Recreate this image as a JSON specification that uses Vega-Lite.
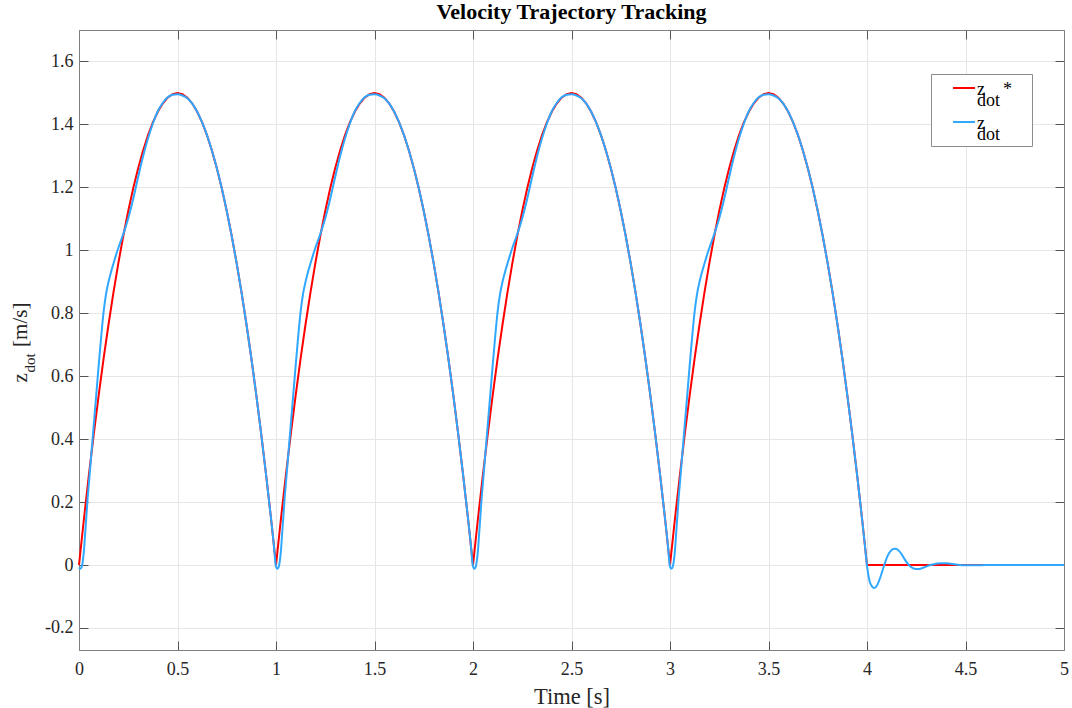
{
  "$schema": "https://vega.github.io/schema/vega-lite/v6.json",
  "width": 985,
  "height": 620,
  "autosize": {"type": "none"},
  "padding": {"left": 79, "top": 30, "right": 8, "bottom": 58},
  "background": "white",
  "title": {
    "text": "Velocity Trajectory Tracking",
    "font": "Liberation Serif",
    "fontSize": 22,
    "fontWeight": "bold",
    "color": "#000000",
    "anchor": "middle",
    "frame": "group",
    "baseline": "alphabetic",
    "offset": 11,
    "dy": 22
  },
  "config": {
    "view": {"stroke": null},
    "font": "Liberation Serif",
    "axis": {"labelFont": "Liberation Serif", "titleFont": "Liberation Serif"},
    "legend": {"labelFont": "Liberation Serif"}
  },
  "datasets": {
    "reference": [
      {"t":0,"v":0},{"t":0.025,"v":0.14625},{"t":0.05,"v":0.285},{"t":0.075,"v":0.41625},{"t":0.1,"v":0.54},{"t":0.125,"v":0.65625},{"t":0.15,"v":0.765},{"t":0.175,"v":0.86625},{"t":0.2,"v":0.96},{"t":0.225,"v":1.04625},{"t":0.25,"v":1.125},{"t":0.275,"v":1.19625},{"t":0.3,"v":1.26},{"t":0.325,"v":1.31625},{"t":0.35,"v":1.365},{"t":0.375,"v":1.40625},{"t":0.4,"v":1.44},{"t":0.425,"v":1.46625},{"t":0.45,"v":1.485},{"t":0.475,"v":1.49625},{"t":0.5,"v":1.5},{"t":0.525,"v":1.49625},{"t":0.55,"v":1.485},{"t":0.575,"v":1.46625},{"t":0.6,"v":1.44},{"t":0.625,"v":1.40625},{"t":0.65,"v":1.365},{"t":0.675,"v":1.31625},{"t":0.7,"v":1.26},{"t":0.725,"v":1.19625},{"t":0.75,"v":1.125},{"t":0.775,"v":1.04625},{"t":0.8,"v":0.96},{"t":0.825,"v":0.86625},{"t":0.85,"v":0.765},{"t":0.875,"v":0.65625},{"t":0.9,"v":0.54},{"t":0.925,"v":0.41625},{"t":0.95,"v":0.285},{"t":0.975,"v":0.14625},
      {"t":1,"v":0},{"t":1.025,"v":0.14625},{"t":1.05,"v":0.285},{"t":1.075,"v":0.41625},{"t":1.1,"v":0.54},{"t":1.125,"v":0.65625},{"t":1.15,"v":0.765},{"t":1.175,"v":0.86625},{"t":1.2,"v":0.96},{"t":1.225,"v":1.04625},{"t":1.25,"v":1.125},{"t":1.275,"v":1.19625},{"t":1.3,"v":1.26},{"t":1.325,"v":1.31625},{"t":1.35,"v":1.365},{"t":1.375,"v":1.40625},{"t":1.4,"v":1.44},{"t":1.425,"v":1.46625},{"t":1.45,"v":1.485},{"t":1.475,"v":1.49625},{"t":1.5,"v":1.5},{"t":1.525,"v":1.49625},{"t":1.55,"v":1.485},{"t":1.575,"v":1.46625},{"t":1.6,"v":1.44},{"t":1.625,"v":1.40625},{"t":1.65,"v":1.365},{"t":1.675,"v":1.31625},{"t":1.7,"v":1.26},{"t":1.725,"v":1.19625},{"t":1.75,"v":1.125},{"t":1.775,"v":1.04625},{"t":1.8,"v":0.96},{"t":1.825,"v":0.86625},{"t":1.85,"v":0.765},{"t":1.875,"v":0.65625},{"t":1.9,"v":0.54},{"t":1.925,"v":0.41625},{"t":1.95,"v":0.285},{"t":1.975,"v":0.14625},
      {"t":2,"v":0},{"t":2.025,"v":0.14625},{"t":2.05,"v":0.285},{"t":2.075,"v":0.41625},{"t":2.1,"v":0.54},{"t":2.125,"v":0.65625},{"t":2.15,"v":0.765},{"t":2.175,"v":0.86625},{"t":2.2,"v":0.96},{"t":2.225,"v":1.04625},{"t":2.25,"v":1.125},{"t":2.275,"v":1.19625},{"t":2.3,"v":1.26},{"t":2.325,"v":1.31625},{"t":2.35,"v":1.365},{"t":2.375,"v":1.40625},{"t":2.4,"v":1.44},{"t":2.425,"v":1.46625},{"t":2.45,"v":1.485},{"t":2.475,"v":1.49625},{"t":2.5,"v":1.5},{"t":2.525,"v":1.49625},{"t":2.55,"v":1.485},{"t":2.575,"v":1.46625},{"t":2.6,"v":1.44},{"t":2.625,"v":1.40625},{"t":2.65,"v":1.365},{"t":2.675,"v":1.31625},{"t":2.7,"v":1.26},{"t":2.725,"v":1.19625},{"t":2.75,"v":1.125},{"t":2.775,"v":1.04625},{"t":2.8,"v":0.96},{"t":2.825,"v":0.86625},{"t":2.85,"v":0.765},{"t":2.875,"v":0.65625},{"t":2.9,"v":0.54},{"t":2.925,"v":0.41625},{"t":2.95,"v":0.285},{"t":2.975,"v":0.14625},
      {"t":3,"v":0},{"t":3.025,"v":0.14625},{"t":3.05,"v":0.285},{"t":3.075,"v":0.41625},{"t":3.1,"v":0.54},{"t":3.125,"v":0.65625},{"t":3.15,"v":0.765},{"t":3.175,"v":0.86625},{"t":3.2,"v":0.96},{"t":3.225,"v":1.04625},{"t":3.25,"v":1.125},{"t":3.275,"v":1.19625},{"t":3.3,"v":1.26},{"t":3.325,"v":1.31625},{"t":3.35,"v":1.365},{"t":3.375,"v":1.40625},{"t":3.4,"v":1.44},{"t":3.425,"v":1.46625},{"t":3.45,"v":1.485},{"t":3.475,"v":1.49625},{"t":3.5,"v":1.5},{"t":3.525,"v":1.49625},{"t":3.55,"v":1.485},{"t":3.575,"v":1.46625},{"t":3.6,"v":1.44},{"t":3.625,"v":1.40625},{"t":3.65,"v":1.365},{"t":3.675,"v":1.31625},{"t":3.7,"v":1.26},{"t":3.725,"v":1.19625},{"t":3.75,"v":1.125},{"t":3.775,"v":1.04625},{"t":3.8,"v":0.96},{"t":3.825,"v":0.86625},{"t":3.85,"v":0.765},{"t":3.875,"v":0.65625},{"t":3.9,"v":0.54},{"t":3.925,"v":0.41625},{"t":3.95,"v":0.285},{"t":3.975,"v":0.14625},
      {"t":4,"v":0},{"t":5,"v":0}
    ],
    "measured": [
      {"t":0,"v":-0.008},{"t":0.00625,"v":-0.012},{"t":0.0125,"v":-0.008},{"t":0.01875,"v":0.01},{"t":0.025,"v":0.045},{"t":0.03125,"v":0.1},{"t":0.0375,"v":0.155},{"t":0.04375,"v":0.212},{"t":0.05,"v":0.258},{"t":0.0625,"v":0.352},{"t":0.075,"v":0.446},{"t":0.0875,"v":0.54},{"t":0.1,"v":0.635},{"t":0.1125,"v":0.725},{"t":0.125,"v":0.805},{"t":0.1375,"v":0.862},{"t":0.15,"v":0.9},{"t":0.1625,"v":0.931},{"t":0.175,"v":0.958},{"t":0.1875,"v":0.984},{"t":0.2,"v":1.008},{"t":0.2125,"v":1.03},{"t":0.225,"v":1.052},{"t":0.2375,"v":1.076},{"t":0.25,"v":1.102},{"t":0.2625,"v":1.131},{"t":0.275,"v":1.163},{"t":0.3,"v":1.232},{"t":0.325,"v":1.298},{"t":0.35,"v":1.355},{"t":0.375,"v":1.403},{"t":0.4,"v":1.442},{"t":0.425,"v":1.468},{"t":0.45,"v":1.486},{"t":0.475,"v":1.494},{"t":0.5,"v":1.496},{"t":0.525,"v":1.492},{"t":0.55,"v":1.483},{"t":0.575,"v":1.466},{"t":0.6,"v":1.44},{"t":0.625,"v":1.40625},{"t":0.65,"v":1.365},{"t":0.675,"v":1.31625},{"t":0.7,"v":1.26},{"t":0.725,"v":1.19625},{"t":0.75,"v":1.125},{"t":0.775,"v":1.04625},{"t":0.8,"v":0.96},{"t":0.825,"v":0.86625},{"t":0.85,"v":0.765},{"t":0.875,"v":0.65625},{"t":0.9,"v":0.54},{"t":0.925,"v":0.41625},{"t":0.95,"v":0.285},{"t":0.975,"v":0.14625},{"t":0.9875,"v":0.074},
      {"t":1,"v":-0.005},{"t":1.00625,"v":-0.012},{"t":1.0125,"v":-0.008},{"t":1.01875,"v":0.01},{"t":1.025,"v":0.045},{"t":1.03125,"v":0.1},{"t":1.0375,"v":0.155},{"t":1.04375,"v":0.212},{"t":1.05,"v":0.258},{"t":1.0625,"v":0.352},{"t":1.075,"v":0.446},{"t":1.0875,"v":0.54},{"t":1.1,"v":0.635},{"t":1.1125,"v":0.725},{"t":1.125,"v":0.805},{"t":1.1375,"v":0.862},{"t":1.15,"v":0.9},{"t":1.1625,"v":0.931},{"t":1.175,"v":0.958},{"t":1.1875,"v":0.984},{"t":1.2,"v":1.008},{"t":1.2125,"v":1.03},{"t":1.225,"v":1.052},{"t":1.2375,"v":1.076},{"t":1.25,"v":1.102},{"t":1.2625,"v":1.131},{"t":1.275,"v":1.163},{"t":1.3,"v":1.232},{"t":1.325,"v":1.298},{"t":1.35,"v":1.355},{"t":1.375,"v":1.403},{"t":1.4,"v":1.442},{"t":1.425,"v":1.468},{"t":1.45,"v":1.486},{"t":1.475,"v":1.494},{"t":1.5,"v":1.496},{"t":1.525,"v":1.492},{"t":1.55,"v":1.483},{"t":1.575,"v":1.466},{"t":1.6,"v":1.44},{"t":1.625,"v":1.40625},{"t":1.65,"v":1.365},{"t":1.675,"v":1.31625},{"t":1.7,"v":1.26},{"t":1.725,"v":1.19625},{"t":1.75,"v":1.125},{"t":1.775,"v":1.04625},{"t":1.8,"v":0.96},{"t":1.825,"v":0.86625},{"t":1.85,"v":0.765},{"t":1.875,"v":0.65625},{"t":1.9,"v":0.54},{"t":1.925,"v":0.41625},{"t":1.95,"v":0.285},{"t":1.975,"v":0.14625},{"t":1.9875,"v":0.074},
      {"t":2,"v":-0.005},{"t":2.00625,"v":-0.012},{"t":2.0125,"v":-0.008},{"t":2.01875,"v":0.01},{"t":2.025,"v":0.045},{"t":2.03125,"v":0.1},{"t":2.0375,"v":0.155},{"t":2.04375,"v":0.212},{"t":2.05,"v":0.258},{"t":2.0625,"v":0.352},{"t":2.075,"v":0.446},{"t":2.0875,"v":0.54},{"t":2.1,"v":0.635},{"t":2.1125,"v":0.725},{"t":2.125,"v":0.805},{"t":2.1375,"v":0.862},{"t":2.15,"v":0.9},{"t":2.1625,"v":0.931},{"t":2.175,"v":0.958},{"t":2.1875,"v":0.984},{"t":2.2,"v":1.008},{"t":2.2125,"v":1.03},{"t":2.225,"v":1.052},{"t":2.2375,"v":1.076},{"t":2.25,"v":1.102},{"t":2.2625,"v":1.131},{"t":2.275,"v":1.163},{"t":2.3,"v":1.232},{"t":2.325,"v":1.298},{"t":2.35,"v":1.355},{"t":2.375,"v":1.403},{"t":2.4,"v":1.442},{"t":2.425,"v":1.468},{"t":2.45,"v":1.486},{"t":2.475,"v":1.494},{"t":2.5,"v":1.496},{"t":2.525,"v":1.492},{"t":2.55,"v":1.483},{"t":2.575,"v":1.466},{"t":2.6,"v":1.44},{"t":2.625,"v":1.40625},{"t":2.65,"v":1.365},{"t":2.675,"v":1.31625},{"t":2.7,"v":1.26},{"t":2.725,"v":1.19625},{"t":2.75,"v":1.125},{"t":2.775,"v":1.04625},{"t":2.8,"v":0.96},{"t":2.825,"v":0.86625},{"t":2.85,"v":0.765},{"t":2.875,"v":0.65625},{"t":2.9,"v":0.54},{"t":2.925,"v":0.41625},{"t":2.95,"v":0.285},{"t":2.975,"v":0.14625},{"t":2.9875,"v":0.074},
      {"t":3,"v":-0.005},{"t":3.00625,"v":-0.012},{"t":3.0125,"v":-0.008},{"t":3.01875,"v":0.01},{"t":3.025,"v":0.045},{"t":3.03125,"v":0.1},{"t":3.0375,"v":0.155},{"t":3.04375,"v":0.212},{"t":3.05,"v":0.258},{"t":3.0625,"v":0.352},{"t":3.075,"v":0.446},{"t":3.0875,"v":0.54},{"t":3.1,"v":0.635},{"t":3.1125,"v":0.725},{"t":3.125,"v":0.805},{"t":3.1375,"v":0.862},{"t":3.15,"v":0.9},{"t":3.1625,"v":0.931},{"t":3.175,"v":0.958},{"t":3.1875,"v":0.984},{"t":3.2,"v":1.008},{"t":3.2125,"v":1.03},{"t":3.225,"v":1.052},{"t":3.2375,"v":1.076},{"t":3.25,"v":1.102},{"t":3.2625,"v":1.131},{"t":3.275,"v":1.163},{"t":3.3,"v":1.232},{"t":3.325,"v":1.298},{"t":3.35,"v":1.355},{"t":3.375,"v":1.403},{"t":3.4,"v":1.442},{"t":3.425,"v":1.468},{"t":3.45,"v":1.486},{"t":3.475,"v":1.494},{"t":3.5,"v":1.496},{"t":3.525,"v":1.492},{"t":3.55,"v":1.483},{"t":3.575,"v":1.466},{"t":3.6,"v":1.44},{"t":3.625,"v":1.40625},{"t":3.65,"v":1.365},{"t":3.675,"v":1.31625},{"t":3.7,"v":1.26},{"t":3.725,"v":1.19625},{"t":3.75,"v":1.125},{"t":3.775,"v":1.04625},{"t":3.8,"v":0.96},{"t":3.825,"v":0.86625},{"t":3.85,"v":0.765},{"t":3.875,"v":0.65625},{"t":3.9,"v":0.54},{"t":3.925,"v":0.41625},{"t":3.95,"v":0.285},{"t":3.975,"v":0.14625},{"t":3.9875,"v":0.074},
      {"t":4,"v":-0.002},{"t":4.00625,"v":-0.03},{"t":4.0125,"v":-0.05},{"t":4.025,"v":-0.068},{"t":4.0375,"v":-0.073},{"t":4.05,"v":-0.066},{"t":4.0625,"v":-0.048},{"t":4.075,"v":-0.025},{"t":4.0875,"v":0},{"t":4.1,"v":0.022},{"t":4.1125,"v":0.038},{"t":4.125,"v":0.048},{"t":4.1375,"v":0.052},{"t":4.15,"v":0.051},{"t":4.1625,"v":0.045},{"t":4.175,"v":0.035},{"t":4.1875,"v":0.022},{"t":4.2,"v":0.01},{"t":4.2125,"v":0},{"t":4.225,"v":-0.007},{"t":4.2375,"v":-0.011},{"t":4.25,"v":-0.013},{"t":4.2625,"v":-0.013},{"t":4.275,"v":-0.011},{"t":4.3,"v":-0.005},{"t":4.325,"v":0.001},{"t":4.35,"v":0.004},{"t":4.375,"v":0.006},{"t":4.4,"v":0.006},{"t":4.425,"v":0.004},{"t":4.45,"v":0.002},{"t":4.5,"v":-0.001},{"t":4.55,"v":-0.001},{"t":4.6,"v":0},{"t":5,"v":0}
    ]
  },
  "resolve": {"axis": {"x": "independent", "y": "independent"}},
  "layer": [
    {
      "data": {"name": "reference"},
      "mark": {"type": "line", "strokeWidth": 2, "interpolate": "linear"},
      "encoding": {
        "x": {
          "field": "t", "type": "quantitative",
          "scale": {"domain": [0, 5], "nice": false, "zero": false},
          "axis": {
            "orient": "bottom",
            "values": [0, 0.5, 1, 1.5, 2, 2.5, 3, 3.5, 4, 4.5, 5],
            "labelExpr": "datum.value + ''",
            "labelFont": "Liberation Serif", "labelFontSize": 18, "labelColor": "#262626",
            "labelPadding": 19, "labelFlush": false,
            "tickSize": -9, "tickColor": "#555555", "domainColor": "#7f7f7f",
            "grid": true, "gridColor": "#e6e6e6",
            "title": "Time [s]",
            "titleFont": "Liberation Serif", "titleFontSize": 22.5, "titleFontWeight": "normal", "titleColor": "#262626",
            "titleBaseline": "alphabetic", "titleY": 53
          }
        },
        "y": {
          "field": "v", "type": "quantitative",
          "scale": {"domain": [-0.27, 1.7], "nice": false, "zero": false},
          "axis": {
            "orient": "left",
            "values": [-0.2, 0, 0.2, 0.4, 0.6, 0.8, 1, 1.2, 1.4, 1.6],
            "labelExpr": "datum.value + ''",
            "labelFont": "Liberation Serif", "labelFontSize": 18, "labelColor": "#262626",
            "labelPadding": 15, "labelFlush": false,
            "tickSize": -9, "tickColor": "#555555", "domainColor": "#7f7f7f",
            "grid": true, "gridColor": "#e6e6e6",
            "title": "z\u00a0\u00a0\u00a0\u00a0\u00a0[m/s]",
            "titleFont": "Liberation Serif", "titleFontSize": 21, "titleFontWeight": "normal", "titleColor": "#262626",
            "titleAngle": 270, "titleAlign": "left", "titleBaseline": "alphabetic",
            "titleX": -52.5, "titleY": 352
          }
        },
        "color": {
          "datum": "zdot*", "type": "nominal",
          "scale": {"domain": ["zdot*", "zdot"], "range": ["#ff0000", "#30a8ff"]},
          "legend": {
            "orient": "none", "legendX": 852, "legendY": 44,
            "title": null,
            "symbolType": "stroke", "symbolSize": 484, "symbolStrokeWidth": 2,
            "symbolOffset": 19,
            "labelFont": "Liberation Serif", "labelFontSize": 18, "labelColor": "#000000",
            "labelOffset": 1, "labelBaseline": "middle",
            "labelExpr": "datum.label == 'zdot*' ? ['z\u00a0\u00a0\u00a0\u00a0*\u00a0\u2800', '\u00a0\u00a0dot'] : ['z', '\u00a0\u00a0dot']",
            "padding": 2, "rowPadding": -1,
            "fillColor": "#ffffff", "strokeColor": "#8c8c8c",
            "encode": {"labels": {"update": {"lineHeight": {"value": 11}, "dy": {"value": 2}}}}
          }
        }
      }
    },
    {
      "data": {"name": "measured"},
      "mark": {"type": "line", "strokeWidth": 2, "interpolate": "monotone"},
      "encoding": {
        "x": {
          "field": "t", "type": "quantitative",
          "axis": {
            "orient": "top",
            "values": [0, 0.5, 1, 1.5, 2, 2.5, 3, 3.5, 4, 4.5, 5],
            "labels": false, "grid": false, "title": null,
            "tickSize": -9, "tickColor": "#555555", "domainColor": "#7f7f7f"
          }
        },
        "y": {
          "field": "v", "type": "quantitative",
          "axis": {
            "orient": "right",
            "values": [-0.2, 0, 0.2, 0.4, 0.6, 0.8, 1, 1.2, 1.4, 1.6],
            "labels": false, "grid": false,
            "tickSize": -9, "tickColor": "#555555", "domainColor": "#7f7f7f",
            "title": "dot",
            "titleFont": "Liberation Serif", "titleFontSize": 15, "titleFontWeight": "normal", "titleColor": "#262626",
            "titleAngle": 270, "titleAlign": "left", "titleBaseline": "alphabetic",
            "titleX": -1030, "titleY": 342
          }
        },
        "color": {"datum": "zdot", "type": "nominal"}
      }
    }
  ]
}
